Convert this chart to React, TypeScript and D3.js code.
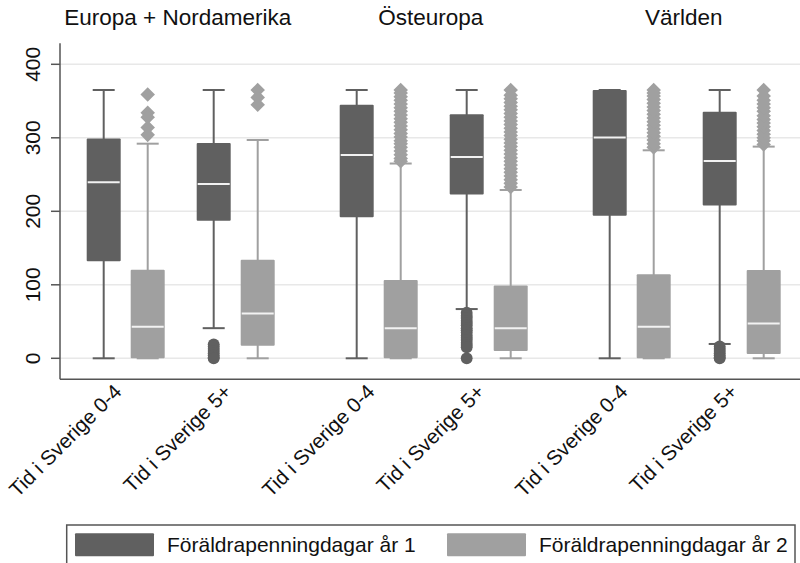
import * as d3 from "d3";

const groups = ["Europa + Nordamerika", "Östeuropa", "Världen"];
const categories = ["Tid i Sverige 0-4", "Tid i Sverige 5+"];
const seriesNames = ["Föräldrapenningdagar år 1", "Föräldrapenningdagar år 2"];
const yTicks = [0, 100, 200, 300, 400];

// order: group 1 (0-4, 5+), group 2 (0-4, 5+), group 3 (0-4, 5+)
const year1Low = [0, 41, 0, 67, 0, 19.5];
const year1Q1 = [132, 187, 192, 223, 194, 208];
const year1Median = [239.5, 237, 276.5, 274, 300.5, 268.5];
const year1Q3 = [299, 293, 345, 332, 365, 335.5];
const year1High = [365, 365, 365, 365, 365, 365];
const year1Outliers = [
  [],
  [19, 16, 13, 10, 7, 4, 1, 0],
  [],
  [62, 58, 55, 51, 48, 45, 41, 38, 35, 31, 28, 25, 21, 18, 15, 0],
  [],
  [16, 13, 10, 7, 4, 1, 0],
];

const year2Low = [0, 0, 0, 0, 0, 0];
const year2Q1 = [0, 17, 0, 10, 0, 6];
const year2Median = [43, 61, 41, 41, 43, 47.5];
const year2Q3 = [120.5, 134, 106.5, 99, 114.5, 120];
const year2High = [292, 297, 265, 229, 283, 288];
const year2Outliers = [
  [359, 334, 328, 314, 304],
  [365, 355, 345],
  [268, 272, 277, 282, 287, 292, 296, 301, 306, 311, 316, 321, 326, 331, 336, 341, 346, 351, 356, 361, 365],
  [233, 238, 243, 248, 253, 258, 263, 268, 273, 278, 283, 288, 293, 298, 303, 308, 313, 318, 323, 328, 333, 338, 343, 348, 353, 358, 365],
  [287, 292, 297, 302, 307, 312, 317, 322, 327, 332, 337, 342, 347, 352, 357, 361, 365],
  [291, 296, 300, 305, 310, 315, 320, 325, 330, 336, 341, 346, 351, 357, 365],
];

const colors = ["#606060", "#a0a0a0"];

function App() {
  const width = 800;
  const height = 563;
  const plotLeft = 60;
  const plotRight = 800;

  const y = d3.scaleLinear().domain([0, 400]).range([358.3, 64.3]);
  const xGroup = d3.scalePoint<string>().domain(groups).range([180.7, 686.7]);
  const xCat = d3.scaleBand<string>().domain(categories).range([-110, 110]);
  const xSeries = d3.scaleBand<string>().domain(seriesNames).range([-44, 44]);

  const boxW = 34;
  const capW = 22;

  const series = [
    { low: year1Low, q1: year1Q1, med: year1Median, q3: year1Q3, high: year1High, out: year1Outliers },
    { low: year2Low, q1: year2Q1, med: year2Median, q3: year2Q3, high: year2High, out: year2Outliers },
  ];

  const circle = d3.symbol().type(d3.symbolCircle).size(110)();
  const diamond = d3.symbol().type(d3.symbolDiamond2).size(135)();

  const font = "'Liberation Sans', Arial, sans-serif";

  const boxes: any[] = [];
  groups.forEach((g, gi) => {
    categories.forEach((c, ci) => {
      const idx = gi * 2 + ci;
      seriesNames.forEach((s, si) => {
        const cx =
          (xGroup(g) as number) +
          (xCat(c) as number) +
          xCat.bandwidth() / 2 +
          (xSeries(s) as number) +
          xSeries.bandwidth() / 2;
        const d = series[si];
        boxes.push({
          key: `${gi}-${ci}-${si}`,
          cx,
          si,
          low: d.low[idx],
          q1: d.q1[idx],
          med: d.med[idx],
          q3: d.q3[idx],
          high: d.high[idx],
          out: d.out[idx],
        });
      });
    });
  });

  return (
    <svg
      width={width}
      height={height}
      style={{ position: "absolute", left: 0, top: 0, display: "block", background: "#fff" }}
      fontFamily={font}
    >
      {/* gridlines */}
      <g stroke="#e8e8e8" strokeWidth={1.5}>
        {yTicks.map((t) => (
          <line key={t} x1={plotLeft} x2={plotRight} y1={y(t)} y2={y(t)} />
        ))}
      </g>

      {/* group titles */}
      {groups.map((g) => (
        <text
          key={g}
          x={(xGroup(g) as number) - 3}
          y={25}
          textAnchor="middle"
          fontSize={22.5}
          fill="#111"
        >
          {g}
        </text>
      ))}

      {/* boxes */}
      {boxes.map((b) => {
        const col = colors[b.si];
        return (
          <g key={b.key}>
            <line x1={b.cx} x2={b.cx} y1={y(b.high)} y2={y(b.low)} stroke={col} strokeWidth={2} />
            <line x1={b.cx - capW / 2} x2={b.cx + capW / 2} y1={y(b.high)} y2={y(b.high)} stroke={col} strokeWidth={2} />
            <line x1={b.cx - capW / 2} x2={b.cx + capW / 2} y1={y(b.low)} y2={y(b.low)} stroke={col} strokeWidth={2} />
            <rect
              x={b.cx - boxW / 2}
              y={y(b.q3)}
              width={boxW}
              height={y(b.q1) - y(b.q3)}
              fill={col}
              rx={1}
            />
            <line
              x1={b.cx - boxW / 2 + 1}
              x2={b.cx + boxW / 2 - 1}
              y1={y(b.med)}
              y2={y(b.med)}
              stroke="#f2f2f2"
              strokeWidth={2}
            />
            {b.out.map((v: number, i: number) => (
              <path
                key={i}
                d={(b.si === 0 ? circle : diamond) as string}
                transform={`translate(${b.cx},${y(v)})`}
                fill={col}
              />
            ))}
          </g>
        );
      })}

      {/* axes */}
      <g stroke="#555" strokeWidth={1.5}>
        <line x1={plotLeft} x2={plotLeft} y1={y(428.5)} y2={y(-28.5)} />
        <line x1={plotLeft} x2={plotRight} y1={y(-28.5)} y2={y(-28.5)} />
        {yTicks.map((t) => (
          <line key={t} x1={plotLeft - 9} x2={plotLeft} y1={y(t)} y2={y(t)} />
        ))}
      </g>
      {yTicks.map((t) => (
        <text
          key={t}
          transform={`translate(40,${y(t)}) rotate(-90)`}
          textAnchor="middle"
          fontSize={21}
          fill="#111"
        >
          {t}
        </text>
      ))}

      {/* x category labels */}
      {groups.map((g) =>
        categories.map((c) => {
          const cx = (xGroup(g) as number) + (xCat(c) as number) + xCat.bandwidth() / 2;
          return (
            <text
              key={g + c}
              transform={`translate(${cx - 3},${393}) rotate(-45)`}
              textAnchor="end"
              fontSize={20.5}
              fill="#111"
            >
              {c}
            </text>
          );
        })
      )}

      {/* legend */}
      <rect x={66.7} y={525} width={728.3} height={60} fill="none" stroke="#555" strokeWidth={1.5} />
      {seriesNames.map((s, i) => {
        const sx = i === 0 ? 75 : 447;
        return (
          <g key={s}>
            <rect x={sx} y={533.3} width={79} height={23} fill={colors[i]} rx={1} />
            <text x={sx + 92} y={552} fontSize={21} fill="#111">
              {s}
            </text>
          </g>
        );
      })}
    </svg>
  );
}

export default App;
